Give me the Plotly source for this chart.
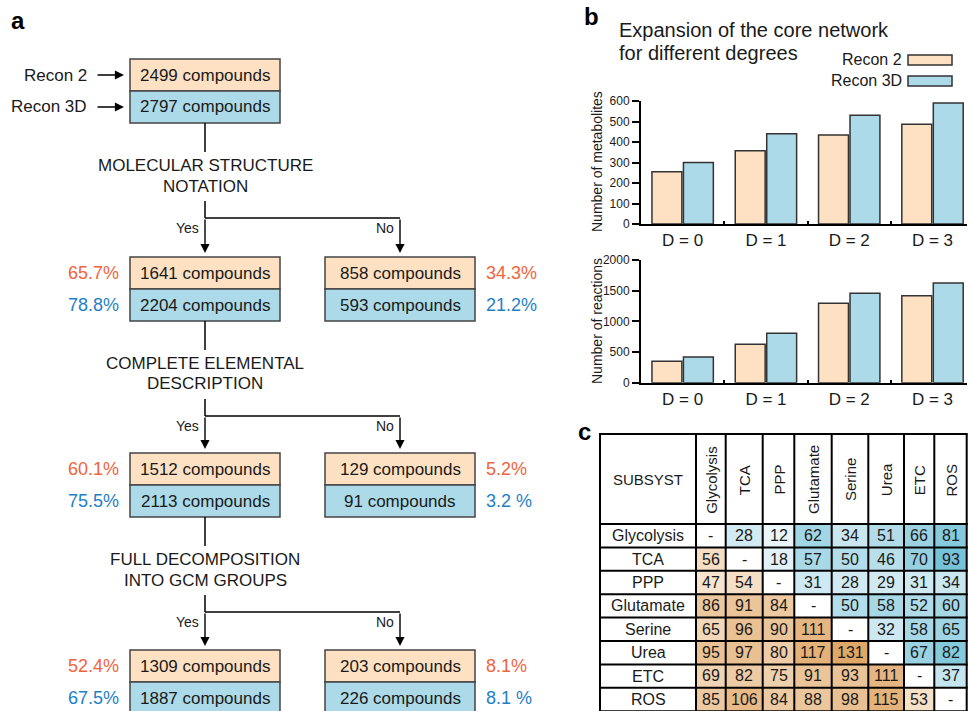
import plotly.graph_objects as go

W, H = 969, 711
FONT = "Liberation Sans, Arial, Helvetica, sans-serif"
PEACH = "#fde1c2"
SKY = "#acdae8"
ORANGE_TXT = "#f0643a"
BLUE_TXT = "#1f80c6"
INK = "#1a1a1a"

# ---------------- data ----------------
degrees = ["D = 0", "D = 1", "D = 2", "D = 3"]
metab_recon2 = [255, 357, 434, 486]
metab_recon3d = [300, 440, 530, 590]
react_recon2 = [348, 625, 1294, 1419]
react_recon3d = [419, 805, 1457, 1626]

subsystems = ["Glycolysis", "TCA", "PPP", "Glutamate", "Serine", "Urea", "ETC", "ROS"]
overlap = [
    [None, 28, 12, 62, 34, 51, 66, 81],
    [56, None, 18, 57, 50, 46, 70, 93],
    [47, 54, None, 31, 28, 29, 31, 34],
    [86, 91, 84, None, 50, 58, 52, 60],
    [65, 96, 90, 111, None, 32, 58, 65],
    [95, 97, 80, 117, 131, None, 67, 82],
    [69, 82, 75, 91, 93, 111, None, 37],
    [85, 106, 84, 88, 98, 115, 53, None],
]

questions = [("MOLECULAR STRUCTURE", "NOTATION"),
             ("COMPLETE ELEMENTAL", "DESCRIPTION"),
             ("FULL DECOMPOSITION", "INTO GCM GROUPS")]
recon2_yes = [2499, 1641, 1512, 1309]
recon3d_yes = [2797, 2204, 2113, 1887]
recon2_no = [858, 129, 203]
recon3d_no = [593, 91, 226]
recon2_yes_pct = ["65.7%", "60.1%", "52.4%"]
recon3d_yes_pct = ["78.8%", "75.5%", "67.5%"]
recon2_no_pct = ["34.3%", "5.2%", "8.1%"]
recon3d_no_pct = ["21.2%", "3.2 %", "8.1 %"]

# ---------------- helpers ----------------
def px(x):
    return x / W

def py(y):
    return 1 - y / H

shapes = []
annotations = []

def txt(x, y, s, size, color=INK, xanchor="center", angle=0):
    annotations.append(dict(x=px(x), y=py(y), xref="paper", yref="paper", text=s,
                            showarrow=False, xanchor=xanchor, yanchor="middle",
                            textangle=angle, font=dict(family=FONT, size=size, color=color)))

def line(x0, y0, x1, y1, w=1.5, color="black"):
    shapes.append(dict(type="line", xref="paper", yref="paper", x0=px(x0), y0=py(y0),
                       x1=px(x1), y1=py(y1), line=dict(color=color, width=w)))

def rect(x0, y0, x1, y1, fill, lc="#444444", w=1.5):
    shapes.append(dict(type="rect", xref="paper", yref="paper", x0=px(x0), y0=py(y0),
                       x1=px(x1), y1=py(y1), fillcolor=fill, line=dict(color=lc, width=w),
                       layer="below"))

def arrow(x0, y0, x1, y1):
    annotations.append(dict(x=px(x1), y=py(y1), ax=x0 - x1, ay=y0 - y1, xref="paper",
                            yref="paper", axref="pixel", ayref="pixel", text="",
                            showarrow=True, arrowhead=2, arrowsize=1.3, arrowwidth=1.4,
                            arrowcolor="black", standoff=0))

# ---------------- panel a: flowchart ----------------
txt(18, 21, "<b>a</b>", 24, "black")
LX0, LX1 = 130, 280
RX0, RX1 = 325, 475
LC, RC = (LX0 + LX1) / 2, (RX0 + RX1) / 2
row_tops = [59, 257, 453, 650]
HALF = 32

def box(x0, x1, top, v2, v3):
    rect(x0, top, x1, top + HALF, PEACH)
    rect(x0, top + HALF, x1, top + 2 * HALF, SKY)
    c = (x0 + x1) / 2
    txt(c, top + HALF / 2, f"{v2} compounds", 17)
    txt(c, top + 1.5 * HALF, f"{v3} compounds", 17)

box(LX0, LX1, row_tops[0], recon2_yes[0], recon3d_yes[0])
txt(89, row_tops[0] + HALF / 2, "Recon 2", 17, xanchor="right")
txt(89, row_tops[0] + 1.5 * HALF, "Recon 3D", 17, xanchor="right")
arrow(96, row_tops[0] + HALF / 2, 124, row_tops[0] + HALF / 2)
arrow(96, row_tops[0] + 1.5 * HALF, 124, row_tops[0] + 1.5 * HALF)

for k in range(3):
    bot = row_tops[k] + 2 * HALF
    line(LC, bot, LC, bot + 29)
    txt(LC, bot + 42, questions[k][0], 17)
    txt(LC, bot + 63, questions[k][1], 17)
    hy = bot + 95
    line(LC, bot + 78, LC, hy)
    line(LC, hy, RC, hy)
    nxt = row_tops[k + 1]
    arrow(LC, hy, LC, nxt - 4)
    arrow(RC, hy, RC, nxt - 4)
    txt(201, hy + 10, "Yes", 14, xanchor="right")
    txt(396, hy + 10, "No", 14, xanchor="right")
    box(LX0, LX1, nxt, recon2_yes[k + 1], recon3d_yes[k + 1])
    box(RX0, RX1, nxt, recon2_no[k], recon3d_no[k])
    txt(121, nxt + HALF / 2, recon2_yes_pct[k], 18, ORANGE_TXT, xanchor="right")
    txt(121, nxt + 1.5 * HALF, recon3d_yes_pct[k], 18, BLUE_TXT, xanchor="right")
    txt(484, nxt + HALF / 2, recon2_no_pct[k], 18, ORANGE_TXT, xanchor="left")
    txt(484, nxt + 1.5 * HALF, recon3d_no_pct[k], 18, BLUE_TXT, xanchor="left")

# ---------------- panel b: bar charts ----------------
txt(591, 17, "<b>b</b>", 24, "black")
txt(617, 30, "Expansion of the core network", 20, xanchor="left")
txt(617, 53, "for different degrees", 20, xanchor="left")
rect(908, 55, 952, 65, PEACH, "#333333")
rect(908, 76, 952, 86, SKY, "#333333")
txt(904, 60, "Recon 2", 16, xanchor="right")
txt(904, 81, "Recon 3D", 16, xanchor="right")
txt(597, 162, "Number of metabolites", 14, angle=-90)
txt(597, 321, "Number of reactions", 14, angle=-90)

xs = list(range(len(degrees)))
bar_line = dict(color="#333333", width=1.5)
traces = [
    go.Bar(x=xs, y=metab_recon2, xaxis="x", yaxis="y", marker=dict(color=PEACH, line=bar_line), name="Recon 2"),
    go.Bar(x=xs, y=metab_recon3d, xaxis="x", yaxis="y", marker=dict(color=SKY, line=bar_line), name="Recon 3D"),
    go.Bar(x=xs, y=react_recon2, xaxis="x2", yaxis="y2", marker=dict(color=PEACH, line=bar_line), name="Recon 2"),
    go.Bar(x=xs, y=react_recon3d, xaxis="x2", yaxis="y2", marker=dict(color=SKY, line=bar_line), name="Recon 3D"),
]

# ---------------- panel c: table ----------------
txt(584, 431, "<b>c</b>", 24, "black")
T_LEFT, T_LAB, T_TOP, T_HEAD = 600, 696, 434, 524
col_w = [29.7, 37, 31.6, 37.4, 36.6, 35.7, 30.3, 32.4]
ROW_H = 23.4
edges = [0.0]
for w_ in col_w:
    edges.append(edges[-1] + w_)
n = len(subsystems)
upper = [[overlap[i][j] if j > i else None for j in range(n)] for i in range(n)]
lower = [[overlap[i][j] if j < i else None for j in range(n)] for i in range(n)]
yedges = list(range(n + 1))
traces.append(go.Heatmap(z=upper, x=edges, y=yedges, xaxis="x3", yaxis="y3", zmin=5, zmax=95,
                         colorscale=[[0, "#f3f9fc"], [1, "#73c1d7"]], showscale=False, hoverinfo="skip"))
traces.append(go.Heatmap(z=lower, x=edges, y=yedges, xaxis="x3", yaxis="y3", zmin=40, zmax=131,
                         colorscale=[[0, "#f9e9d8"], [1, "#e0a868"]], showscale=False, hoverinfo="skip"))
for i in range(n):
    for j in range(n):
        v = overlap[i][j]
        annotations.append(dict(x=(edges[j] + edges[j + 1]) / 2, y=i + 0.5, xref="x3", yref="y3",
                                text="-" if v is None else str(v), showarrow=False,
                                font=dict(family=FONT, size=16, color=INK)))
T_RIGHT = T_LAB + edges[-1]
T_BOT = T_HEAD + ROW_H * n
txt((T_LEFT + T_LAB) / 2, (T_TOP + T_HEAD) / 2, "SUBSYST", 15)
for j, name in enumerate(subsystems):
    txt(T_LAB + (edges[j] + edges[j + 1]) / 2, (T_TOP + T_HEAD) / 2 + 1, name, 15, angle=-90)
    txt((T_LEFT + T_LAB) / 2, T_HEAD + ROW_H * (j + 0.5), name, 16)
# grid
gx = [T_LEFT, T_LAB] + [T_LAB + e for e in edges[1:]]
for x in gx:
    shapes.append(dict(type="line", xref="paper", yref="paper", x0=px(x), x1=px(x),
                       y0=py(T_TOP), y1=py(T_BOT + 2), line=dict(color="black", width=2)))
gy = [T_TOP, T_HEAD] + [T_HEAD + ROW_H * (i + 1) for i in range(n)]
for y in gy:
    line(T_LEFT - 1, y, T_RIGHT + 1, y, w=2)

# ---------------- layout ----------------
fig = go.Figure(traces)
xcommon = dict(range=[-0.5, 3.414], tickvals=xs, ticktext=degrees, showline=True, linewidth=2,
               linecolor="black", ticks="", showgrid=False, zeroline=False, fixedrange=True,
               automargin=False, tickfont=dict(family=FONT, size=17, color=INK),
               minor=dict(tickvals=[0.5, 1.5, 2.5], ticks="inside", ticklen=3, tickwidth=1.5,
                          tickcolor="black"))
ycommon = dict(showline=True, linewidth=2, linecolor="black", ticks="outside", ticklen=7,
               tickwidth=1.5, tickcolor="black", showgrid=False, zeroline=False, fixedrange=True,
               automargin=False, tickfont=dict(family=FONT, size=12, color=INK))
fig.update_layout(
    template="none", autosize=False,
    width=W, height=H, margin=dict(l=0, r=0, t=0, b=0, pad=0),
    paper_bgcolor="white", plot_bgcolor="white", showlegend=False,
    barmode="group", bargap=0.244, bargroupgap=0.05,
    xaxis=dict(domain=[px(641), px(967)], anchor="y", **xcommon),
    yaxis=dict(domain=[py(224), py(101)], anchor="x", range=[0, 600],
               tickvals=[0, 100, 200, 300, 400, 500, 600], **ycommon),
    xaxis2=dict(domain=[px(641), px(967)], anchor="y2", **xcommon),
    yaxis2=dict(domain=[py(382.7), py(260)], anchor="x2", range=[0, 2000],
                tickvals=[0, 500, 1000, 1500, 2000], **ycommon),
    xaxis3=dict(domain=[px(T_LAB), px(T_RIGHT)], anchor="y3", range=[0, edges[-1]], visible=False,
                fixedrange=True, automargin=False),
    yaxis3=dict(domain=[max(0, py(T_BOT)), py(T_HEAD)], anchor="x3", range=[n, 0], visible=False,
                fixedrange=True, automargin=False),
    shapes=shapes, annotations=annotations,
    font=dict(family=FONT),
)
fig.write_html("out.html", config={"displayModeBar": False, "responsive": False},
               post_script="document.body.style.margin='0';document.body.style.padding='0';"
                           "document.body.style.overflow='hidden';")
